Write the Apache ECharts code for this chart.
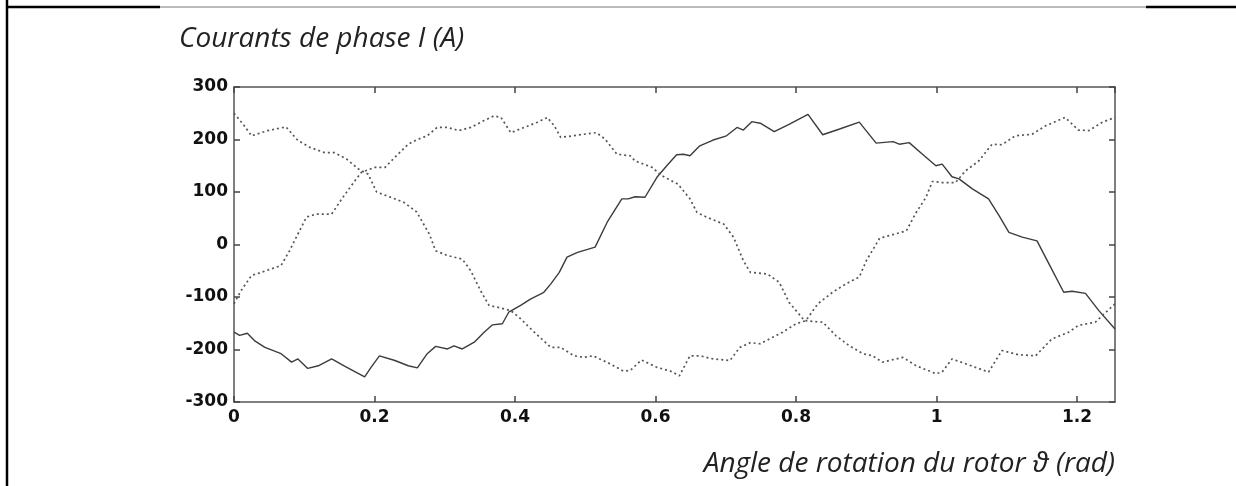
<!DOCTYPE html>
<html>
<head>
<meta charset="utf-8">
<script src="https://cdn.jsdelivr.net/npm/echarts@6/dist/echarts.min.js"></script>
<style>
html,body{margin:0;padding:0;background:#fff;}
#c{width:1236px;height:486px;}
</style>
</head>
<body>
<div id="c"></div>
<script>
// Angle (rad) and phase current (A) pairs
const phaseA = [
[0.000,-167],[0.008,-173],[0.019,-169],[0.029,-183],[0.044,-196],[0.067,-208],[0.082,-224],[0.091,-218],
[0.105,-236],[0.120,-231],[0.139,-218],[0.158,-232],[0.186,-252],[0.195,-234],[0.207,-212],[0.229,-221],
[0.248,-231],[0.261,-235],[0.275,-208],[0.287,-194],[0.304,-199],[0.313,-193],[0.325,-199],[0.342,-186],
[0.356,-167],[0.368,-153],[0.382,-151],[0.391,-129],[0.408,-116],[0.422,-104],[0.441,-91],[0.451,-75],
[0.463,-53],[0.474,-24],[0.489,-15],[0.514,-5],[0.531,42],[0.552,87],[0.561,87],[0.571,91],[0.585,90],
[0.602,128],[0.616,150],[0.630,171],[0.640,172],[0.649,169],[0.663,188],[0.682,199],[0.701,207],
[0.716,223],[0.725,218],[0.737,234],[0.749,231],[0.769,215],[0.790,229],[0.817,248],[0.838,209],
[0.862,220],[0.890,233],[0.914,193],[0.938,196],[0.947,191],[0.961,194],[0.980,172],[0.999,150],
[1.008,153],[1.022,129],[1.032,125],[1.051,106],[1.074,87],[1.089,55],[1.103,23],[1.122,14],[1.143,7],
[1.160,-37],[1.181,-91],[1.193,-89],[1.212,-93],[1.231,-126],[1.254,-161]
];
const phaseB = [
[0.000,250],[0.013,229],[0.025,207],[0.048,217],[0.074,224],[0.091,198],[0.108,185],[0.129,175],
[0.143,175],[0.160,163],[0.177,144],[0.191,134],[0.203,100],[0.227,88],[0.242,80],[0.260,62],[0.263,55],
[0.278,20],[0.287,-12],[0.304,-21],[0.325,-28],[0.337,-50],[0.351,-88],[0.363,-116],[0.380,-121],
[0.394,-126],[0.406,-139],[0.425,-164],[0.451,-196],[0.465,-196],[0.484,-212],[0.498,-215],[0.511,-212],
[0.535,-227],[0.554,-241],[0.564,-240],[0.580,-220],[0.602,-234],[0.621,-241],[0.634,-250],[0.649,-212],
[0.663,-212],[0.682,-218],[0.706,-221],[0.720,-196],[0.735,-187],[0.749,-189],[0.762,-180],[0.781,-167],
[0.800,-151],[0.814,-145],[0.831,-113],[0.852,-91],[0.871,-75],[0.890,-62],[0.900,-31],[0.919,12],
[0.933,17],[0.957,26],[0.971,61],[0.985,90],[0.994,120],[1.008,118],[1.027,118],[1.041,140],[1.060,159],
[1.079,191],[1.093,190],[1.112,207],[1.136,210],[1.155,226],[1.183,242],[1.202,218],[1.217,217],
[1.236,233],[1.254,242]
];
const phaseC = [
[0.000,-113],[0.010,-88],[0.025,-59],[0.039,-53],[0.067,-40],[0.079,-12],[0.091,20],[0.103,52],
[0.117,58],[0.139,58],[0.155,90],[0.172,121],[0.181,137],[0.200,147],[0.215,147],[0.229,166],
[0.248,191],[0.261,200],[0.275,207],[0.289,223],[0.304,223],[0.320,217],[0.337,223],[0.356,236],
[0.370,245],[0.380,242],[0.394,213],[0.413,223],[0.432,233],[0.446,242],[0.456,226],[0.465,204],
[0.482,207],[0.498,210],[0.516,213],[0.528,201],[0.545,172],[0.564,169],[0.571,159],[0.595,147],
[0.609,131],[0.632,115],[0.649,87],[0.659,61],[0.673,52],[0.697,39],[0.711,14],[0.725,-31],[0.735,-53],
[0.759,-56],[0.776,-72],[0.790,-110],[0.812,-145],[0.838,-148],[0.857,-174],[0.876,-193],[0.895,-208],
[0.909,-212],[0.923,-224],[0.952,-215],[0.971,-231],[0.999,-246],[1.008,-243],[1.022,-218],[1.041,-227],
[1.074,-243],[1.093,-202],[1.117,-210],[1.141,-212],[1.164,-180],[1.188,-167],[1.202,-154],[1.226,-148],
[1.254,-113]
];
const xMin = 0, xMax = 1.254, xStep = 0.2;
const yMin = -300, yMax = 300, yStep = 100;
const titleText = 'Courants de phase I (A)';
const xLabelText = 'Angle de rotation du rotor \u03D1 (rad)';

const chart = echarts.init(document.getElementById('c'), null, {renderer:'canvas'});
const axisLine = {show:true, onZero:false, lineStyle:{color:'#555', width:1.5}};
const tickIn = {show:true, inside:true, length:6, lineStyle:{color:'#444', width:1.5}};
const lblStyle = {color:'#111', fontFamily:'DejaVu Sans', fontWeight:'bold', fontSize:17};
chart.setOption({
  animation:false,
  backgroundColor:'#fff',
  grid:{left:234, right:121, top:87, bottom:84, containLabel:false},
  title:[
    {text:titleText, left:174, top:20, textStyle:{fontFamily:'Open Sans', fontStyle:'italic', fontWeight:'normal', fontSize:28, color:'#222'}},
    {text:xLabelText, right:116, top:445, textStyle:{fontFamily:'Open Sans', fontStyle:'italic', fontWeight:'normal', fontSize:28, color:'#222'}}
  ],
  xAxis:[
    {type:'value', min:xMin, max:xMax, interval:xStep, position:'bottom',
     axisLine:axisLine, axisTick:tickIn, splitLine:{show:false},
     axisLabel:Object.assign({margin:7, showMaxLabel:false, formatter:v=>String(+v.toFixed(2))}, lblStyle)},
    {type:'value', min:xMin, max:xMax, interval:xStep, position:'top',
     axisLine:axisLine, axisTick:tickIn, splitLine:{show:false}, axisLabel:{show:false}}
  ],
  yAxis:[
    {type:'value', min:yMin, max:yMax, interval:yStep, position:'left',
     axisLine:axisLine, axisTick:tickIn, splitLine:{show:false},
     axisLabel:Object.assign({margin:6}, lblStyle)},
    {type:'value', min:yMin, max:yMax, interval:yStep, position:'right',
     axisLine:axisLine, axisTick:tickIn, splitLine:{show:false}, axisLabel:{show:false}}
  ],
  series:[
    {type:'line', data:phaseA, showSymbol:false, lineStyle:{color:'#3c3c3c', width:1.4}},
    {type:'line', data:phaseB, showSymbol:false, lineStyle:{color:'#555', width:1.7, type:[2,3]}},
    {type:'line', data:phaseC, showSymbol:false, lineStyle:{color:'#555', width:1.7, type:[2,3]}}
  ],
  graphic:[
    {type:'line', shape:{x1:7, y1:0, x2:7, y2:486}, style:{stroke:'#000', lineWidth:2.5}},
    {type:'line', shape:{x1:6, y1:7, x2:160, y2:7}, style:{stroke:'#000', lineWidth:2.5}},
    {type:'line', shape:{x1:160, y1:7, x2:1146, y2:7}, style:{stroke:'#777', lineWidth:1}},
    {type:'line', shape:{x1:1146, y1:7, x2:1236, y2:7}, style:{stroke:'#000', lineWidth:2.5}}
  ]
});
</script>
</body>
</html>
